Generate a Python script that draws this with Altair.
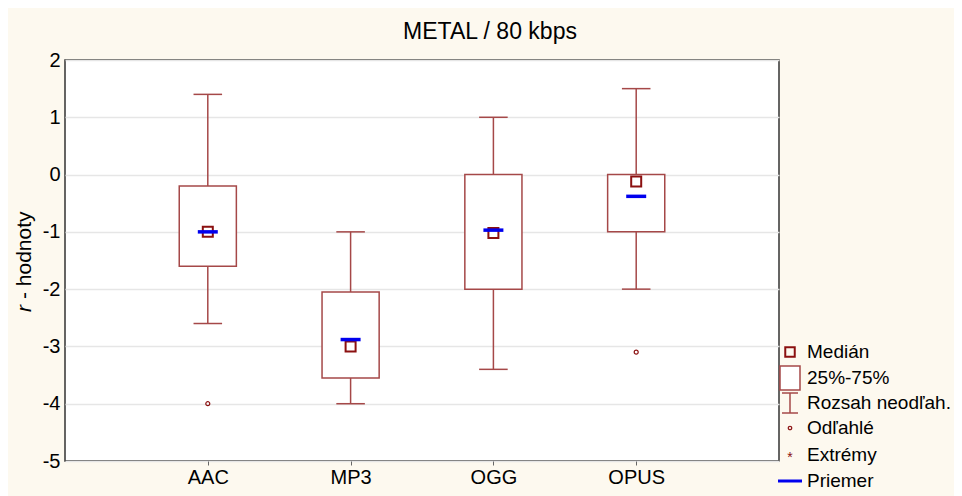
import altair as alt
import pandas as pd

# ---- data ----
categories = ["AAC", "MP3", "OGG", "OPUS"]
positions = [1, 2, 3, 4]
whisker_low = [-2.6, -4.0, -3.4, -2.0]
whisker_high = [1.4, -1.0, 1.0, 1.5]
q1 = [-1.6, -3.55, -2.0, -1.0]
q3 = [-0.2, -2.05, 0.0, 0.0]
medians = [-1.0, -3.0, -1.02, -0.12]
means = [-1.0, -2.88, -0.97, -0.38]
outlier_cat = [1, 4]
outlier_val = [-4.0, -3.1]

legend_labels = ["Medián", "25%-75%", "Rozsah neodľah.", "Odľahlé", "Extrémy", "Priemer"]
title_text = "METAL / 80 kbps"

BOX = "#a54848"
DARK = "#8b1010"
BLUE = "#0000ee"
FONT = "Liberation Sans"

df = pd.DataFrame({
    "cat": categories, "pos": positions, "lo": whisker_low, "hi": whisker_high,
    "q1": q1, "q3": q3, "med": medians, "mean": means,
})
df["bx1"] = df["pos"] - 0.2
df["bx2"] = df["pos"] + 0.2
df["cx1"] = df["pos"] - 0.1
df["cx2"] = df["pos"] + 0.1
df["mx1"] = df["pos"] - 0.07
df["mx2"] = df["pos"] + 0.07
out_df = pd.DataFrame({"pos": outlier_cat, "val": outlier_val})

label_expr = "{1:'AAC',2:'MP3',3:'OGG',4:'OPUS'}[datum.value] || ''"
xscale = alt.Scale(domain=[0, 5], nice=False, zero=False)
yscale = alt.Scale(domain=[-5, 2], nice=False, zero=False)

xaxis = alt.Axis(values=positions, labelExpr=label_expr, title=None, grid=False,
                 labelFontSize=20, labelFont=FONT, labelColor="#000", labelPadding=2,
                 tickSize=4, tickColor="#666", domain=False)
yaxis = alt.Axis(values=[-5, -4, -3, -2, -1, 0, 1, 2], labelExpr="datum.value + ''",
                 title=None, grid=True,
                 gridColor="#e6e6e6", gridWidth=1.5, labelFontSize=20, labelFont=FONT,
                 labelColor="#000", labelPadding=5, ticks=False, domain=False)

base = alt.Chart(df)

whisk = base.mark_rule(color=BOX, strokeWidth=1.5).encode(
    x=alt.X("pos:Q", scale=xscale, axis=xaxis),
    y=alt.Y("lo:Q", scale=yscale, axis=yaxis),
    y2="hi:Q",
)
cap_hi = base.mark_rule(color=BOX, strokeWidth=1.5).encode(
    x=alt.X("cx1:Q", scale=xscale), x2="cx2:Q", y=alt.Y("hi:Q", scale=yscale))
cap_lo = base.mark_rule(color=BOX, strokeWidth=1.5).encode(
    x=alt.X("cx1:Q", scale=xscale), x2="cx2:Q", y=alt.Y("lo:Q", scale=yscale))
box = base.mark_rect(fill="white", stroke=BOX, strokeWidth=1.5).encode(
    x=alt.X("bx1:Q", scale=xscale), x2="bx2:Q",
    y=alt.Y("q1:Q", scale=yscale), y2="q3:Q")
med = base.mark_point(shape="square", size=100, filled=False, color=DARK, strokeWidth=2,
                      opacity=1).encode(
    x=alt.X("pos:Q", scale=xscale), y=alt.Y("med:Q", scale=yscale))
mean = base.mark_rule(color=BLUE, strokeWidth=3.5).encode(
    x=alt.X("mx1:Q", scale=xscale), x2="mx2:Q", y=alt.Y("mean:Q", scale=yscale))
outl = alt.Chart(out_df).mark_point(shape="circle", size=16, filled=False, color=DARK,
                                    strokeWidth=1.2, opacity=1).encode(
    x=alt.X("pos:Q", scale=xscale), y=alt.Y("val:Q", scale=yscale))

# ---- title and axis title ----
one = pd.DataFrame({"a": [0]})
title = alt.Chart(one).mark_text(fontSize=23, font=FONT, color="#000", align="center",
                                 baseline="alphabetic").encode(
    x=alt.value(425), y=alt.value(-21), text=alt.value(title_text))
ytitle_r = alt.Chart(one).mark_text(fontSize=21, font=FONT, fontStyle="italic", angle=270,
                                    align="left", baseline="middle", color="#000").encode(
    x=alt.value(-40), y=alt.value(252), text=alt.value("r"))
ytitle_rest = alt.Chart(one).mark_text(fontSize=21, font=FONT, angle=270, align="left",
                                       baseline="middle", color="#000").encode(
    x=alt.value(-40), y=alt.value(239), text=alt.value("- hodnoty"))

# ---- custom legend (pixel positions) ----
lx = 725
ly = [292, 318, 343, 368, 395, 421]
leg_text = alt.Chart(pd.DataFrame({"t": legend_labels, "yy": ly})).mark_text(
    fontSize=19, font=FONT, color="#000", align="left", baseline="middle").encode(
    x=alt.value(lx + 17), y=alt.Y("yy:Q", scale=None), text="t:N")
leg_med = alt.Chart(one).mark_point(shape="square", size=90, filled=False, color=DARK,
                                    strokeWidth=2, opacity=1).encode(
    x=alt.value(lx), y=alt.value(ly[0]))
leg_box = alt.Chart(one).mark_rect(fill="white", stroke=BOX, strokeWidth=1.5).encode(
    x=alt.value(lx - 10), x2=alt.value(lx + 10), y=alt.value(ly[1] - 12),
    y2=alt.value(ly[1] + 12))
leg_wv = alt.Chart(one).mark_rule(color=BOX, strokeWidth=1.5).encode(
    x=alt.value(lx), y=alt.value(ly[2] - 10), y2=alt.value(ly[2] + 10))
leg_wt = alt.Chart(one).mark_rule(color=BOX, strokeWidth=1.5).encode(
    x=alt.value(lx - 8), x2=alt.value(lx + 8), y=alt.value(ly[2] - 10))
leg_wb = alt.Chart(one).mark_rule(color=BOX, strokeWidth=1.5).encode(
    x=alt.value(lx - 8), x2=alt.value(lx + 8), y=alt.value(ly[2] + 10))
leg_out = alt.Chart(one).mark_point(shape="circle", size=12, filled=False, color=DARK,
                                    strokeWidth=1.2, opacity=1).encode(
    x=alt.value(lx), y=alt.value(ly[3]))
leg_ext = alt.Chart(one).mark_text(fontSize=14, font=FONT, color=DARK, align="center",
                                   baseline="middle").encode(
    x=alt.value(lx), y=alt.value(ly[4] + 3), text=alt.value("*"))
leg_mean = alt.Chart(one).mark_rule(color=BLUE, strokeWidth=3).encode(
    x=alt.value(lx - 12), x2=alt.value(lx + 12), y=alt.value(ly[5]))

chart = alt.layer(
    whisk, cap_hi, cap_lo, box, med, mean, outl,
    title, ytitle_r, ytitle_rest,
    leg_text, leg_med, leg_box, leg_wv, leg_wt, leg_wb, leg_out, leg_ext, leg_mean,
).properties(
    width=714, height=401,
    autosize=alt.AutoSizeParams(type="none"),
    padding={"left": 57, "top": 52, "right": 175, "bottom": 36},
    background="#fdf9ef",
).configure_view(
    fill="white", stroke="#333", strokeWidth=1.5,
)

chart.save("out.html", embed_options={"renderer": "svg", "actions": False})
